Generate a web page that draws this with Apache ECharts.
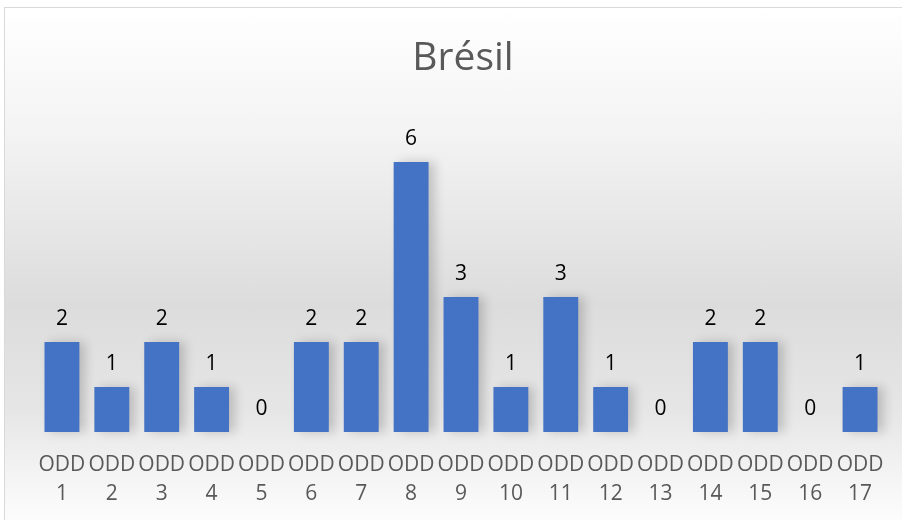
<!DOCTYPE html>
<html>
<head>
<meta charset="utf-8">
<script src="https://cdn.jsdelivr.net/npm/echarts@6/dist/echarts.min.js"></script>
<style>
html,body{margin:0;padding:0;background:#fff;}
#frame{position:absolute;left:4px;top:7px;width:920px;height:530px;border:1px solid #d9d9d9;
background:linear-gradient(to bottom,#ffffff 0%,#f3f3f3 24%,#dcdcdc 56%,#e6e6e6 76%,#f8f8f8 92%,#ffffff 100%);}
#chart{position:absolute;left:0;top:0;width:902px;height:520px;}
</style>
</head>
<body>
<div id="frame"></div>
<div id="chart"></div>
<script>
const title = "Brésil";
const categories = ["ODD\n1","ODD\n2","ODD\n3","ODD\n4","ODD\n5","ODD\n6","ODD\n7","ODD\n8","ODD\n9","ODD\n10","ODD\n11","ODD\n12","ODD\n13","ODD\n14","ODD\n15","ODD\n16","ODD\n17"];
const values = [2,1,2,1,0,2,2,6,3,1,3,1,0,2,2,0,1];

const chart = echarts.init(document.getElementById('chart'), null, {renderer:'canvas'});
chart.setOption({
  backgroundColor: 'transparent',
  animation: false,
  title: {
    text: title, left: 458, top: 34, textAlign: 'center',
    textStyle: {fontFamily: 'Open Sans', fontWeight: 'normal', fontSize: 39, color: '#595959'}
  },
  grid: {left: 37, right: 17, top: 162, bottom: 88, containLabel: false},
  xAxis: {
    type: 'category', data: categories,
    axisLine: {show: false}, axisTick: {show: false},
    axisLabel: {interval: 0, margin: 19, fontFamily: 'Open Sans', fontSize: 21, color: '#595959', lineHeight: 29}
  },
  yAxis: {type: 'value', min: 0, max: 6, show: false, splitLine: {show: false}},
  series: [{
    type: 'bar', data: values, barWidth: '70%',
    itemStyle: {color: '#4472c4', shadowColor: 'rgba(0,0,0,0.18)', shadowBlur: 10, shadowOffsetX: 6, shadowOffsetY: 0},
    label: {show: true, position: 'top', distance: 12, fontFamily: 'Open Sans', fontSize: 21, color: '#000000'}
  }]
});
</script>
</body>
</html>
